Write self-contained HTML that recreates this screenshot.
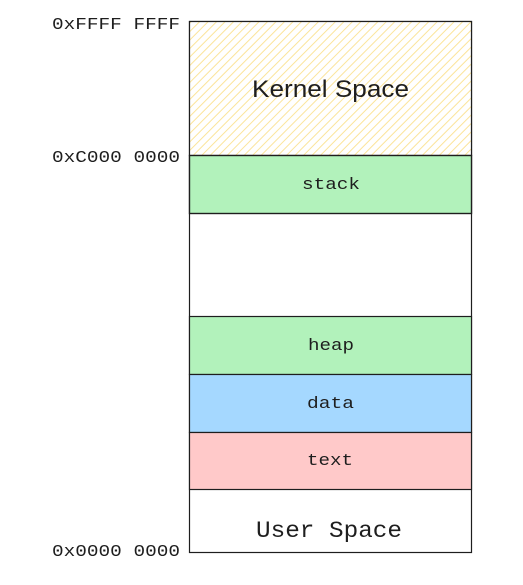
<!DOCTYPE html>
<html><head><style>html,body{margin:0;padding:0;background:#fff}</style></head>
<body>
<svg width="523" height="580" xmlns="http://www.w3.org/2000/svg">
<defs>
<pattern id="h" patternUnits="userSpaceOnUse" width="6" height="6" patternTransform="rotate(45)">
<rect width="6" height="6" fill="#fff"/>
<line x1="0" y1="0" x2="0" y2="6" stroke="#fbe49a" stroke-width="2"/>
</pattern>
</defs>
<rect x="189.5" y="21.5" width="282" height="531" fill="#fff" stroke="#1e1e1e" stroke-width="1.2"/>
<rect x="189.5" y="21.5" width="282" height="134" fill="url(#h)" stroke="#1e1e1e" stroke-width="1.2"/>
<rect x="189.5" y="155.5" width="282" height="58" fill="#b2f2bb" stroke="#1e1e1e" stroke-width="1.4"/>
<rect x="189.5" y="316.5" width="282" height="58" fill="#b2f2bb" stroke="#1e1e1e" stroke-width="1.2"/>
<rect x="189.5" y="374.5" width="282" height="58" fill="#a5d8ff" stroke="#1e1e1e" stroke-width="1.2"/>
<rect x="189.5" y="432.5" width="282" height="57" fill="#ffc9c9" stroke="#1e1e1e" stroke-width="1.2"/>
<g font-family="Liberation Sans, sans-serif" fill="#1e1e1e">
<text x="252" y="97" font-size="24" textLength="157" lengthAdjust="spacingAndGlyphs">Kernel Space</text>
</g>
<g font-family="Liberation Mono, monospace" fill="#1e1e1e" font-size="17">
<text x="302" y="189" textLength="58" lengthAdjust="spacingAndGlyphs">stack</text>
<text x="308" y="350" textLength="46" lengthAdjust="spacingAndGlyphs">heap</text>
<text x="307" y="408" textLength="47" lengthAdjust="spacingAndGlyphs">data</text>
<text x="307" y="465" textLength="46" lengthAdjust="spacingAndGlyphs">text</text>
<text x="256" y="537" font-size="23" textLength="146" lengthAdjust="spacingAndGlyphs">User Space</text>
</g>
<g font-family="Liberation Mono, monospace" fill="#1e1e1e" font-size="17">
<text x="52" y="29" textLength="128" lengthAdjust="spacingAndGlyphs">0xFFFF FFFF</text>
<text x="52" y="162" textLength="128" lengthAdjust="spacingAndGlyphs">0xC000 0000</text>
<text x="52" y="556" textLength="128" lengthAdjust="spacingAndGlyphs">0x0000 0000</text>
</g>
</svg>
</body></html>
